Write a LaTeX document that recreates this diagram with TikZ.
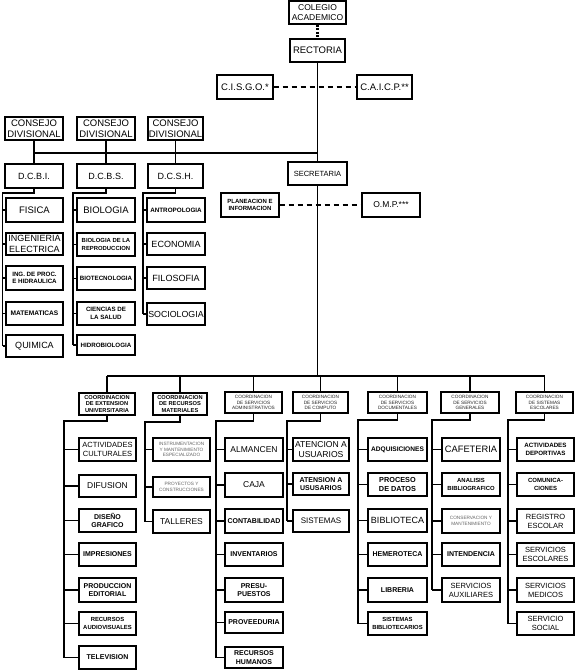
\documentclass[tikz,border=0pt]{standalone}
\usepackage{fontspec}
\setmainfont{Liberation Sans}
\newcommand\fsz[2]{\fontsize{#1}{#2}\selectfont}
\newcommand\orgbox[7]{%
 \pgfmathsetmacro\obw{#4-#2}\pgfmathsetmacro\obh{#5-#3}%
 \pgfmathsetmacro\obx{(#2+#4)/2}\pgfmathsetmacro\oby{(#3+#5)/2}%
 \node[box,minimum width=\obw pt,minimum height=\obh pt,#6] (#1) at (\obx,\oby) {#7};}
\newcommand\branch[5]{%
 \coordinate (#1e) at (#2,#3);
 \draw[conn] (#1.south) |- (#1e) -- (#1e |- #5.west);
 \foreach \c in {#4} {\draw[conn] (#1e |- \c.west) -- (\c.west);}}
\tikzset{
 box/.style={draw, line width=1.1pt, inner sep=0.4pt, align=center, fill=white},
 conn/.style={line width=1.2pt},
 dashconn/.style={line width=1.2pt, dash pattern=on 5pt off 4pt},
 big/.style={font=\fsz{9.5}{10.5}},
 mid/.style={font=\fsz{7.5}{9}},
 midb/.style={font=\bfseries\fsz{7}{8.5}},
 smb/.style={font=\bfseries\fsz{6.2}{7.5}},
 tiny/.style={font=\fsz{4.7}{5.7}, text=black!85},
 tinyg/.style={font=\fsz{4.7}{5.7}, text=black!60},
}
\begin{document}
\begin{tikzpicture}[x=1pt,y=-1pt]
\useasboundingbox (0,0) rectangle (576,670);
\fill[white] (0,0) rectangle (576,670);
% top
\orgbox{colegio}{289}{1}{346}{24}{font=\fsz{8.5}{9.5}}{COLEGIO\\ACADEMICO}
\orgbox{rectoria}{290}{39}{345}{62}{big}{RECTORIA}
\orgbox{cisgo}{217}{75}{273}{99}{big}{C.I.S.G.O.*}
\orgbox{caicp}{357}{75}{412}{99}{big}{C.A.I.C.P.**}
\orgbox{consejoa}{5}{117}{63}{140}{big}{CONSEJO\\DIVISIONAL}
\orgbox{consejob}{77}{117}{135}{140}{big}{CONSEJO\\DIVISIONAL}
\orgbox{consejoc}{148}{117}{203}{140}{big}{CONSEJO\\DIVISIONAL}
\orgbox{dcbi}{5}{164}{63}{188}{font=\fsz{9}{10}}{D.C.B.I.}
\orgbox{dcbs}{77}{164}{135}{188}{font=\fsz{9}{10}}{D.C.B.S.}
\orgbox{dcsh}{148}{164}{203}{188}{font=\fsz{9}{10}}{D.C.S.H.}
\orgbox{secretaria}{288}{162}{347}{185}{mid}{SECRETARIA}
\orgbox{planeacion}{221}{193}{279}{217}{font=\bfseries\fsz{6}{7.2}}{PLANEACION E\\INFORMACION}
\orgbox{omp}{362}{193}{420}{217}{font=\fsz{8.5}{10}}{O.M.P.***}
% column A
\orgbox{fisica}{6}{198}{63}{222}{big}{FISICA}
\orgbox{ingenieria}{6}{233}{63}{255}{font=\fsz{9}{10.5}}{INGENIERIA\\ELECTRICA}
\orgbox{ingproc}{6}{266}{63}{290}{smb}{ING. DE PROC.\\E HIDRAULICA}
\orgbox{matematicas}{6}{302}{63}{325}{font=\bfseries\fsz{6.6}{7.5}}{MATEMATICAS}
\orgbox{quimica}{6}{335}{63}{357}{font=\fsz{9}{10}}{QUIMICA}
% column B
\orgbox{biologia}{77}{198}{135}{222}{big}{BIOLOGIA}
\orgbox{bioreprod}{77}{233}{135}{256}{font=\bfseries\fsz{5.9}{7.2}}{BIOLOGIA DE LA\\REPRODUCCION}
\orgbox{biotec}{77}{267}{135}{290}{font=\bfseries\fsz{6.2}{7}}{BIOTECNOLOGIA}
\orgbox{ciencias}{77}{302}{135}{325}{smb}{CIENCIAS DE\\LA SALUD}
\orgbox{hidrobio}{77}{335}{135}{355}{font=\bfseries\fsz{6.2}{7}}{HIDROBIOLOGIA}
% column C
\orgbox{antropologia}{147}{198}{205}{222}{font=\bfseries\fsz{6.3}{7}}{ANTROPOLOGIA}
\orgbox{economia}{147}{233}{205}{255}{font=\fsz{9}{10}}{ECONOMIA}
\orgbox{filosofia}{147}{267}{205}{289}{font=\fsz{9}{10}}{FILOSOFIA}
\orgbox{sociologia}{147}{303}{205}{325}{font=\fsz{8.8}{10}}{SOCIOLOGIA}
% coordinations
\orgbox{cext}{79}{393}{135}{415}{font=\bfseries\fsz{5.7}{6.6}}{COORDINACION\\DE EXTENSION\\UNIVERSITARIA}
\orgbox{cmat}{153}{393}{207}{415}{font=\bfseries\fsz{5.7}{6.6}}{COORDINACION\\DE RECURSOS\\MATERIALES}
\orgbox{cadm}{225}{392}{282}{413}{tiny}{COORDINACION\\DE SERVICIOS\\ADMINISTRATIVOS}
\orgbox{ccomp}{293}{392}{348}{413}{tiny}{COORDINACION\\DE SERVICIOS\\DE COMPUTO}
\orgbox{cdoc}{368}{392}{427}{413}{tiny}{COORDINACION\\DE SERVICIOS\\DOCUMENTALES}
\orgbox{cgen}{441}{392}{499}{413}{tiny}{COORDINACION\\DE SERVICIOS\\GENERALES}
\orgbox{cesc}{516}{392}{573}{413}{tiny}{COORDINACION\\DE SISTEMAS\\ESCOLARES}
% col 1
\orgbox{actcult}{79}{438}{136}{461}{mid}{ACTIVIDADES\\CULTURALES}
\orgbox{difusion}{79}{475}{136}{497}{font=\fsz{8.5}{10}}{DIFUSION}
\orgbox{diseno}{79}{509}{136}{532}{midb}{DISEÑO\\GRAFICO}
\orgbox{impresiones}{79}{543}{136}{566}{midb}{IMPRESIONES}
\orgbox{produccion}{79}{578}{136}{602}{midb}{PRODUCCION\\EDITORIAL}
\orgbox{recav}{79}{612}{136}{635}{font=\bfseries\fsz{5.9}{7.2}}{RECURSOS\\AUDIOVISUALES}
\orgbox{television}{79}{646}{136}{669}{midb}{TELEVISION}
% col 2
\orgbox{instrum}{153}{438}{210}{461}{tinyg}{INSTRUMENTACION\\Y MANTENIMIENTO\\ESPECIALIZADO}
\orgbox{proyectos}{153}{477}{210}{497}{tinyg}{PROYECTOS Y\\CONSTRUCCIONES}
\orgbox{talleres}{153}{510}{210}{533}{font=\fsz{8.5}{10}}{TALLERES}
% col 3
\orgbox{almancen}{225}{438}{283}{461}{font=\fsz{8.5}{10}}{ALMANCEN}
\orgbox{caja}{225}{473}{283}{497}{font=\fsz{8.5}{10}}{CAJA}
\orgbox{contab}{225}{509}{283}{533}{midb}{CONTABILIDAD}
\orgbox{inventarios}{225}{543}{283}{566}{midb}{INVENTARIOS}
\orgbox{presup}{225}{578}{283}{602}{midb}{PRESU-\\PUESTOS}
\orgbox{proveeduria}{225}{612}{283}{633}{midb}{PROVEEDURIA}
\orgbox{rrhh}{225}{647}{283}{668}{midb}{RECURSOS\\HUMANOS}
% col 4
\orgbox{atencion}{293}{438}{349}{461}{font=\fsz{8.6}{10}}{ATENCION A\\USUARIOS}
\orgbox{atension}{293}{473}{349}{495}{midb}{ATENSION A\\USUSARIOS}
\orgbox{sistemas}{293}{510}{349}{532}{font=\fsz{8}{9.5}}{SISTEMAS}
% col 5
\orgbox{adquis}{368}{438}{427}{461}{font=\bfseries\fsz{6.6}{7.5}}{ADQUISICIONES}
\orgbox{proceso}{368}{473}{427}{496}{font=\bfseries\fsz{7.3}{9}}{PROCESO\\DE DATOS}
\orgbox{biblioteca}{368}{509}{427}{532}{font=\fsz{9}{10}}{BIBLIOTECA}
\orgbox{hemeroteca}{368}{543}{427}{566}{midb}{HEMEROTECA}
\orgbox{libreria}{368}{578}{427}{602}{midb}{LIBRERIA}
\orgbox{sisbib}{368}{612}{427}{635}{font=\bfseries\fsz{5.9}{7.2}}{SISTEMAS\\BIBLIOTECARIOS}
% col 6
\orgbox{cafeteria}{442}{438}{500}{461}{font=\fsz{9.3}{10}}{CAFETERIA}
\orgbox{analisis}{442}{473}{500}{496}{font=\bfseries\fsz{5.9}{7.2}}{ANALISIS\\BIBLIOGRAFICO}
\orgbox{conserv}{442}{509}{500}{533}{tinyg}{CONSERVACION Y\\MANTENIMIENTO}
\orgbox{intendencia}{442}{543}{500}{566}{midb}{INTENDENCIA}
\orgbox{servaux}{442}{578}{500}{602}{mid}{SERVICIOS\\AUXILIARES}
% col 7
\orgbox{actdep}{517}{438}{574}{461}{font=\bfseries\fsz{6.2}{7.5}}{ACTIVIDADES\\DEPORTIVAS}
\orgbox{comunic}{517}{473}{574}{496}{font=\bfseries\fsz{6}{7.5}}{COMUNICA-\\CIONES}
\orgbox{registro}{517}{509}{574}{533}{mid}{REGISTRO\\ESCOLAR}
\orgbox{servesc}{517}{543}{574}{566}{mid}{SERVICIOS\\ESCOLARES}
\orgbox{servmed}{517}{578}{574}{602}{mid}{SERVICIOS\\MEDICOS}
\orgbox{servsoc}{517}{612}{574}{635}{mid}{SERVICIO\\SOCIAL}
% connectors top
\draw[line width=2.4pt, dash pattern=on 2pt off 1.6pt] (colegio.south) -- (rectoria.north);
\coordinate (j1) at (317.5,153);
\coordinate (bus) at (317.5,376);
\draw[conn] (rectoria.south) -- (secretaria.north);
\draw[conn] (dcbi.north |- j1) -- (j1);
\draw[conn] (consejoa.south) -- (dcbi.north);
\draw[conn] (consejob.south) -- (dcbs.north);
\draw[conn] (consejoc.south) -- (dcsh.north);
\draw[dashconn] (cisgo.east) -- (caicp.west);
\draw[dashconn] (planeacion.east) -- (omp.west);
\draw[conn] (secretaria.south) -- (bus);
\branch{dcbi}{2.5}{193}{fisica,ingenieria,ingproc,matematicas,quimica}{quimica}
\branch{dcbs}{73}{193}{biologia,bioreprod,biotec,ciencias,hidrobio}{hidrobio}
\branch{dcsh}{143}{193}{antropologia,economia,filosofia,sociologia}{sociologia}
% bus
\draw[conn] (cext.north |- bus) -- (cesc.north |- bus);
\foreach \n in {cext,cmat,cadm,ccomp,cdoc,cgen,cesc} {\draw[conn] (\n.north |- bus) -- (\n.north);}
\branch{cext}{64}{421}{actcult,difusion,diseno,impresiones,produccion,recav,television}{television}
\branch{cmat}{145}{422}{instrum,proyectos,talleres}{talleres}
\branch{cadm}{216}{421}{almancen,caja,contab,inventarios,presup,proveeduria,rrhh}{rrhh}
\branch{ccomp}{287}{421}{atencion,atension,sistemas}{sistemas}
\branch{cdoc}{358}{420}{adquis,proceso,biblioteca,hemeroteca,libreria,sisbib}{sisbib}
\branch{cgen}{432}{420}{cafeteria,analisis,conserv,intendencia,servaux}{servaux}
\branch{cesc}{508}{420}{actdep,comunic,registro,servesc,servmed,servsoc}{servsoc}
\end{tikzpicture}
\end{document}
